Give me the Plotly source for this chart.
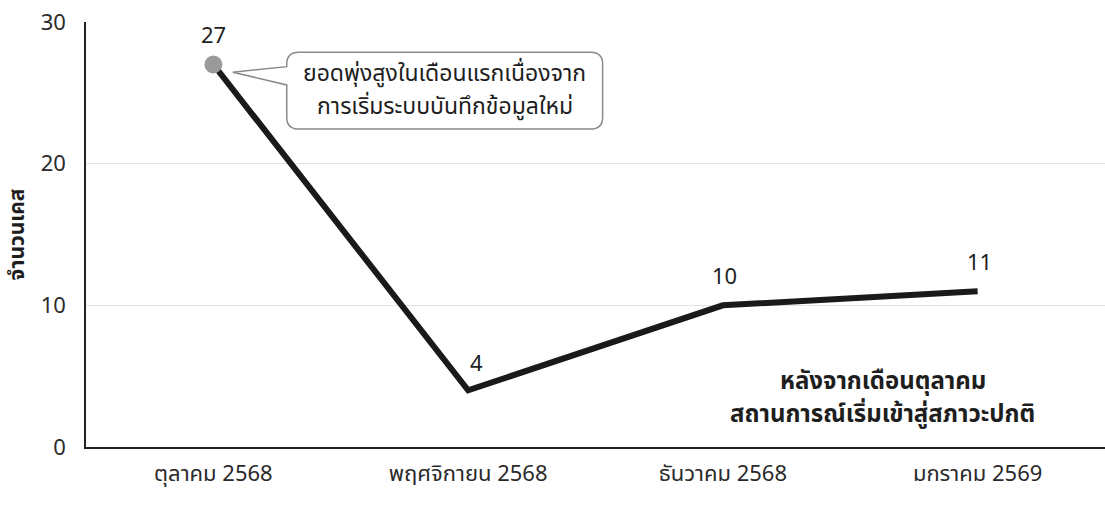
import plotly.graph_objects as go

months = ["ตุลาคม 2568", "พฤศจิกายน 2568", "ธันวาคม 2568", "มกราคม 2569"]
cases = [27, 4, 10, 11]
y_ticks = [0, 10, 20, 30]
y_title = "จำนวนเคส"
callout_lines = ["ยอดพุ่งสูงในเดือนแรกเนื่องจาก", "การเริ่มระบบบันทึกข้อมูลใหม่"]
note_lines = ["หลังจากเดือนตุลาคม", "สถานการณ์เริ่มเข้าสู่สภาวะปกติ"]

FONT = "Noto Sans Thai, Noto Sans, Open Sans, sans-serif"
TXT = "#1e1e1e"
PLOT_H = 425  # plot area height in px, used to convert line spacing to paper units

fig = go.Figure()
fig.add_trace(go.Scatter(
    x=months, y=cases, mode="lines",
    line=dict(color="#1a1a1a", width=6),
    hoverinfo="skip", showlegend=False,
))
fig.add_trace(go.Scatter(
    x=months[:1], y=cases[:1], mode="markers",
    marker=dict(color="#9a9a9a", size=18, line=dict(width=0)),
    hoverinfo="skip", showlegend=False,
))

# value labels
offsets = [(0, 28), (8, 26), (2, 28), (2, 28)]
for m, v, (dx, dy) in zip(months, cases, offsets):
    fig.add_annotation(x=m, y=v, text=str(v), showarrow=False,
                       xshift=dx, yshift=dy, font=dict(size=22, color=TXT, family=FONT))

# callout box (paper coordinates)
x0, x1 = 0.197, 0.507
y0, y1 = 0.748, 0.929
rx, ry = 0.012, 0.028
tip = (0.144, 0.882)
pt, pb = 0.895, 0.852
path = (f"M{x0+rx},{y1} L{x1-rx},{y1} Q{x1},{y1} {x1},{y1-ry} "
        f"L{x1},{y0+ry} Q{x1},{y0} {x1-rx},{y0} L{x0+rx},{y0} Q{x0},{y0} {x0},{y0+ry} "
        f"L{x0},{pb} L{tip[0]},{tip[1]} L{x0},{pt} L{x0},{y1-ry} Q{x0},{y1} {x0+rx},{y1} Z")
fig.add_shape(type="path", path=path, xref="paper", yref="paper",
              line=dict(color="#8a8a8a", width=1.5), fillcolor="white", layer="above")

def add_lines(lines, xc, yc, size, spacing_px, bold=False):
    n = len(lines)
    for i, s in enumerate(lines):
        off = ((n - 1) / 2 - i) * spacing_px / PLOT_H
        fig.add_annotation(xref="paper", yref="paper", x=xc, y=yc + off,
                           xanchor="center", yanchor="middle", borderpad=0,
                           text=f"<b>{s}</b>" if bold else s, showarrow=False,
                           font=dict(size=size, color=TXT, family=FONT))

add_lines(callout_lines, (x0 + x1) / 2, (y0 + y1) / 2, 23, 33)
add_lines(note_lines, 0.782, 0.115, 24, 33, bold=True)

fig.update_layout(
    width=1105, height=512,
    margin=dict(l=86, r=0, t=22, b=65),
    paper_bgcolor="white", plot_bgcolor="white",
    font=dict(family=FONT, color=TXT),
    xaxis=dict(type="category", range=[-0.5, 3.5], showgrid=False,
               showline=True, linecolor="#222", linewidth=1.5,
               ticks="", tickfont=dict(size=22, color="#2a2a2a"), ticklabelstandoff=6),
    yaxis=dict(range=[0, 30], tickvals=y_ticks, showgrid=True, gridcolor="#e3e3e3",
               gridwidth=1, showline=True, linecolor="#222", linewidth=1.5, zeroline=False,
               ticks="", tickfont=dict(size=22, color="#2a2a2a"), ticklabelstandoff=14,
               title=dict(text=f"<b>{y_title}</b>", font=dict(size=21, color=TXT), standoff=10)),
)

fig.write_html("out.html")
